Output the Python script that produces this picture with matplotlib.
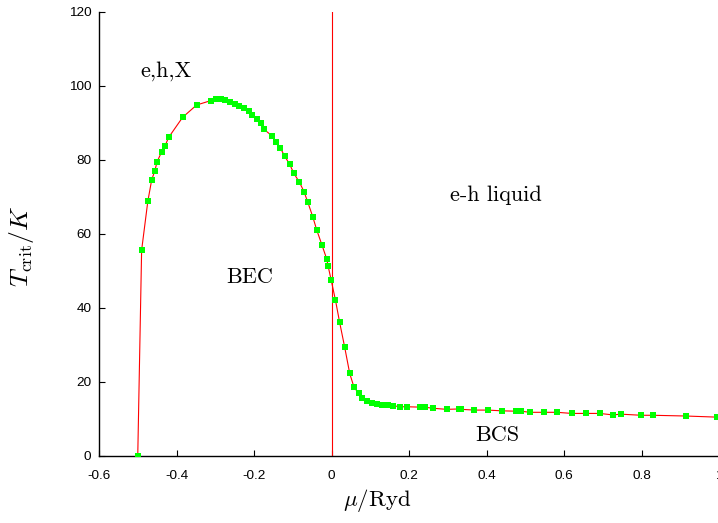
import matplotlib
matplotlib.use("Agg")
import matplotlib.pyplot as plt
from matplotlib.ticker import FuncFormatter, FixedLocator

plt.rcParams['mathtext.fontset'] = 'cm'

# data: chemical potential mu/Ryd and critical temperature T/K
mu = [-0.500, -0.490, -0.474, -0.464, -0.456, -0.450, -0.438, -0.430, -0.420,
      -0.384, -0.348, -0.311, -0.297, -0.286, -0.276, -0.263, -0.250, -0.239,
      -0.226, -0.214, -0.204, -0.191, -0.181, -0.175, -0.154, -0.144, -0.132,
      -0.121, -0.108, -0.097, -0.083, -0.071, -0.061, -0.048, -0.038, -0.025,
      -0.012, -0.009, -0.001, 0.010, 0.021, 0.034, 0.047, 0.058, 0.070, 0.079,
      0.092, 0.105, 0.118, 0.131, 0.145, 0.159, 0.176, 0.194, 0.228, 0.240,
      0.261, 0.297, 0.328, 0.335, 0.369, 0.403, 0.440, 0.476, 0.490, 0.511,
      0.548, 0.582, 0.620, 0.658, 0.692, 0.726, 0.747, 0.799, 0.829, 0.914,
      0.994]
tcrit = [0.0, 55.6, 68.8, 74.6, 77.0, 79.5, 82.2, 83.7, 86.1,
         91.5, 94.8, 96.0, 96.4, 96.4, 96.1, 95.7, 95.1, 94.5,
         93.9, 93.1, 92.1, 91.0, 89.9, 88.3, 86.5, 84.7, 83.2,
         81.0, 78.8, 76.3, 74.0, 71.4, 68.5, 64.5, 61.0, 57.1,
         53.1, 51.4, 47.6, 42.2, 36.1, 29.4, 22.3, 18.6, 16.9, 15.7,
         14.9, 14.4, 14.1, 13.9, 13.7, 13.6, 13.3, 13.3, 13.2, 13.2,
         12.9, 12.6, 12.7, 12.6, 12.4, 12.4, 12.2, 12.1, 12.1, 11.8,
         11.8, 11.8, 11.5, 11.5, 11.5, 11.1, 11.3, 11.0, 11.0, 10.8,
         10.5]

x_ticks = [-0.6, -0.4, -0.2, 0.0, 0.2, 0.4, 0.6, 0.8, 1.0]
y_ticks = [0, 20, 40, 60, 80, 100, 120]

labels = ["e,h,X", "BEC", "e-h liquid", "BCS"]
label_x = [-0.494, -0.272, 0.306, 0.370]
label_y = [102.4, 46.6, 69.0, 4.1]

W, H = 718, 523
fig = plt.figure(figsize=(W / 100, H / 100), dpi=100)
ax = fig.add_axes([99 / W, (H - 456) / H, (719 - 99) / W, (456 - 11.7) / H])

ax.plot(mu, tcrit, color='#ff0000', lw=0.8, marker='s', ms=4.6,
        mfc='#00ff00', mec='#00ff00', mew=0, zorder=3)
ax.plot([0, 0], [0, 120], color='#ff0000', lw=0.8, zorder=2)

ax.set_xlim(-0.6, 1.0)
ax.set_ylim(0, 120)
ax.xaxis.set_major_locator(FixedLocator(x_ticks))
ax.yaxis.set_major_locator(FixedLocator(y_ticks))
ax.xaxis.set_major_formatter(FuncFormatter(lambda v, p: '%g' % v))
ax.yaxis.set_major_formatter(FuncFormatter(lambda v, p: '%g' % v))

for side in ('top', 'right'):
    ax.spines[side].set_visible(False)
for side in ('left', 'bottom'):
    ax.spines[side].set_linewidth(1.0)

ax.tick_params(direction='in', length=4.5, width=0.8, labelsize=9.7)
ax.tick_params(axis='y', pad=5.5)
ax.tick_params(axis='x', pad=10)
for lab in ax.get_xticklabels() + ax.get_yticklabels():
    lab.set_fontfamily('Liberation Sans')

for t, xx, yy in zip(labels, label_x, label_y):
    ax.text(xx, yy, t, fontfamily='cmr10', fontsize=16, ha='left', va='baseline')

fig.text(21 / W, (H - 246.5) / H, r'$T_{\mathrm{crit}}/K$', rotation=90,
         ha='center', va='center', fontsize=18.5)
fig.text(377 / W, (H - 500) / H, r'$\mu/\mathrm{Ryd}$', ha='center', va='center',
         fontsize=16.5)

fig.savefig('out.png', dpi=100)
